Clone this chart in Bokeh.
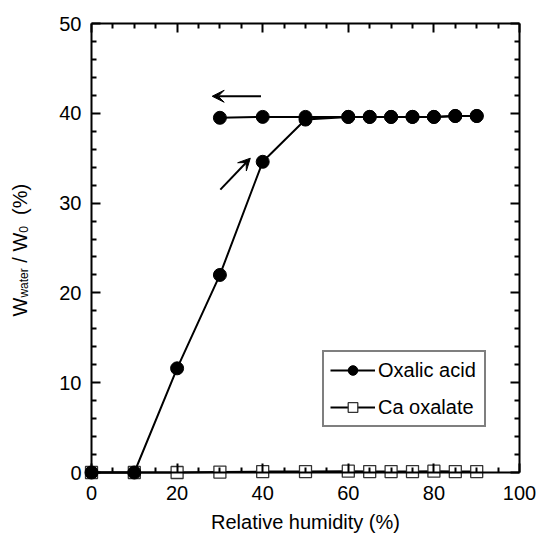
import math
from bokeh.plotting import figure
from bokeh.layouts import row
from bokeh.models import (Range1d, LinearAxis, FixedTicker, Legend, LegendItem,
                          Arrow, VeeHead, ColumnDataSource)
from bokeh.core.properties import value
from bokeh.embed import file_html
from bokeh.resources import INLINE

FONT = "Liberation Sans"

# ---------------- data ----------------
rh_sorp = [0, 10, 20, 30, 40, 50, 60, 65, 70, 75, 80, 85, 90]
oxalic_sorp = [0.0, 0.0, 11.6, 22.0, 34.6, 39.3, 39.6, 39.6, 39.6, 39.6, 39.6, 39.7, 39.7]
rh_desorp = [90, 85, 80, 75, 70, 65, 60, 50, 40, 30]
oxalic_desorp = [39.7, 39.7, 39.6, 39.6, 39.6, 39.6, 39.6, 39.6, 39.6, 39.5]
rh_ca = [0, 10, 20, 30, 40, 50, 60, 65, 70, 75, 80, 85, 90]
ca_oxalate = [0.0, 0.0, 0.0, 0.05, 0.1, 0.1, 0.15, 0.1, 0.1, 0.1, 0.15, 0.1, 0.1]

# arrows (direction of humidity change)
arrow_desorp = dict(x_start=39.6, y_start=41.9, x_end=28.2, y_end=41.9)
arrow_sorp = dict(x_start=30.1, y_start=31.5, x_end=37.1, y_end=35.0)

x_major = [0, 20, 40, 60, 80, 100]
x_minor = [v for v in range(0, 101, 5) if v % 20]
y_major = [0, 10, 20, 30, 40, 50]
y_minor = [v for v in range(0, 51, 2) if v % 10]

X_MIN, X_MAX = 0, 100
Y_MIN, Y_MAX = 0, 50

# ---------------- layout ----------------
TITLE_W = 40                # narrow panel holding the y title
PLOT_W, PLOT_H = 428, 449   # pixel size of the data box
PAD = 8                     # extra frame so markers on the box edges are not clipped
BORDER_TOP, BORDER_BOTTOM = 15, 61
FRAME_H = PLOT_H + 2 * PAD
pad_x = PAD * (X_MAX - X_MIN) / PLOT_W
pad_y = PAD * (Y_MAX - Y_MIN) / PLOT_H

p = figure(frame_width=PLOT_W + 2 * PAD, frame_height=FRAME_H,
           x_range=Range1d(X_MIN - pad_x, X_MAX + pad_x),
           y_range=Range1d(Y_MIN - pad_y, Y_MAX + pad_y),
           output_backend="svg", toolbar_location=None,
           x_axis_type=None, y_axis_type=None,
           min_border_left=83 - TITLE_W, min_border_right=10,
           min_border_top=BORDER_TOP, min_border_bottom=BORDER_BOTTOM)
p.outline_line_color = None
p.xgrid.visible = False
p.ygrid.visible = False
p.background_fill_color = "white"
p.border_fill_color = "white"


def label_axis(ticks, standoff):
    """Axis at the frame edge that only carries tick labels."""
    return LinearAxis(ticker=FixedTicker(ticks=ticks, minor_ticks=[]),
                      axis_line_color=None, major_tick_line_color=None,
                      minor_tick_line_color=None, major_tick_in=0, major_tick_out=0,
                      major_label_standoff=standoff,
                      major_label_text_font=FONT, major_label_text_font_size="20px",
                      major_label_text_color="black")


def tick_axis(ticks, length, loc, bounds, line=True):
    """Axis drawn at a data location that only carries a line and inward ticks."""
    return LinearAxis(ticker=FixedTicker(ticks=[], minor_ticks=ticks),
                      fixed_location=loc, bounds=bounds,
                      axis_line_width=2, axis_line_color="black" if line else None,
                      minor_tick_line_width=2, minor_tick_line_color="black",
                      minor_tick_in=length, minor_tick_out=0,
                      major_tick_in=0, major_tick_out=0, major_label_standoff=0,
                      axis_label_standoff=0)


xb = label_axis(x_major, 13 - PAD)
xb.axis_label = "Relative humidity (%)"
xb.axis_label_text_font = FONT
xb.axis_label_text_font_size = "20px"
xb.axis_label_text_font_style = "normal"
xb.axis_label_text_color = "black"
xb.axis_label_standoff = 8
p.add_layout(xb, "below")
p.add_layout(label_axis(y_major, 10 - PAD), "left")

for side, maj, mnr, loc, bnd in [("below", x_major, x_minor, Y_MIN, (X_MIN, X_MAX)),
                                 ("above", x_major, x_minor, Y_MAX, (X_MIN, X_MAX)),
                                 ("left", y_major, y_minor, X_MIN, (Y_MIN, Y_MAX)),
                                 ("right", y_major, y_minor, X_MAX, (Y_MIN, Y_MAX))]:
    p.add_layout(tick_axis(maj, 9, loc, bnd, True), side)
    p.add_layout(tick_axis(mnr, 5, loc, bnd, False), side)

# ---------------- glyphs ----------------
ca_line = p.line(rh_ca, ca_oxalate, line_color="black", line_width=2)
ca_pts = p.scatter(rh_ca, ca_oxalate, marker="square", size=12,
                   fill_color="white", line_color="#333333", line_width=1.3)
ox_line1 = p.line(rh_sorp, oxalic_sorp, line_color="black", line_width=2)
ox_line2 = p.line(rh_desorp, oxalic_desorp, line_color="black", line_width=2)
ox_pts1 = p.scatter(rh_sorp, oxalic_sorp, marker="circle", size=13,
                    fill_color="black", line_color="black")
ox_pts2 = p.scatter(rh_desorp, oxalic_desorp, marker="circle", size=13,
                    fill_color="black", line_color="black")

for a in (arrow_desorp, arrow_sorp):
    p.add_layout(Arrow(end=VeeHead(size=12, fill_color="black", line_color="black", line_width=1),
                       line_color="black", line_width=2, **a))

legend = Legend(items=[LegendItem(label="Oxalic acid", renderers=[ox_line1, ox_pts1]),
                       LegendItem(label="Ca oxalate", renderers=[ca_line, ca_pts])],
                location=(239, 53), margin=0, padding=6, spacing=13,
                label_height=24, label_width=100, glyph_height=24, glyph_width=45,
                label_standoff=3,
                label_text_font=FONT, label_text_font_size="20px", label_text_color="black",
                border_line_color="black", border_line_width=2,
                background_fill_color="white", background_fill_alpha=1.0)
p.add_layout(legend)

# ---------------- y title (with subscripts) in a narrow side panel ----------------
t = figure(frame_width=TITLE_W, frame_height=FRAME_H,
           x_range=Range1d(0, TITLE_W), y_range=Range1d(0, FRAME_H),
           output_backend="svg", toolbar_location=None, x_axis_type=None, y_axis_type=None,
           min_border_left=0, min_border_right=0,
           min_border_top=BORDER_TOP, min_border_bottom=BORDER_BOTTOM)
t.outline_line_color = None
t.xgrid.visible = False
t.ygrid.visible = False
t.background_fill_color = "white"
t.border_fill_color = "white"

ADV = {"W": 944, "w": 722, "a": 556, "t": 278, "e": 556, "r": 333, " ": 278,
       "/": 278, "0": 556, "(": 333, "%": 889, ")": 333}


def tw(s, size):
    return sum(ADV[c] for c in s) * size / 1000.0


BIG, SMALL = 20, 12
pieces = [("W", BIG, 0.0), ("water", SMALL, 0.0), ("/ W", BIG, tw(" ", BIG)),
          ("0", SMALL, 0.0), ("(%)", BIG, tw("  ", BIG))]
base_x, sub_x = 19.0, 23.0
ypos = 164.0          # start of the title, measured up from the frame bottom
xs, ys, txts, sizes = [], [], [], []
for txt, size, gap in pieces:
    ypos += gap
    xs.append(base_x if size == BIG else sub_x)
    ys.append(ypos)
    txts.append(txt)
    sizes.append(f"{size}px")
    ypos += tw(txt, size)
src = ColumnDataSource(dict(x=xs, y=ys, text=txts, size=sizes))
t.text(x="x", y="y", text="text", source=src, angle=math.pi / 2,
       text_font=value(FONT), text_font_size="size", text_align="left",
       text_baseline="alphabetic", text_color="black")

layout = row(t, p)
open("out.html", "w").write(file_html(layout, INLINE))
